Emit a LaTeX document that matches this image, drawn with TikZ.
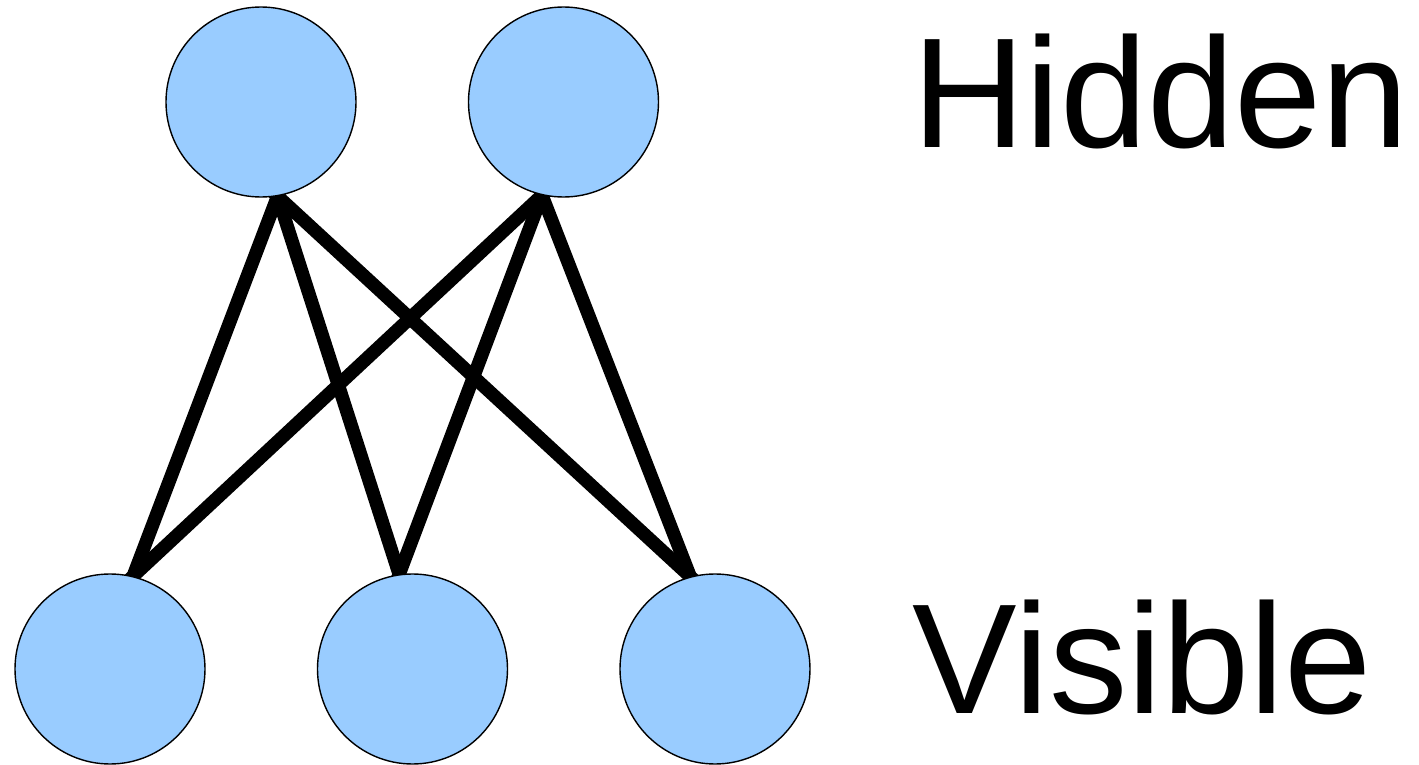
\documentclass[tikz,border=0pt]{standalone}
\usepackage{fontspec}
\setmainfont{Liberation Sans}
\usepackage{tikz}
\usetikzlibrary{positioning,backgrounds}
\definecolor{unitblue}{HTML}{99CCFF}

\begin{document}
\begin{tikzpicture}[node distance=3.025cm,on grid,
  unit node/.style={circle,draw,line width=0.4pt,fill=unitblue,minimum size=1.9cm,inner sep=0pt},
  layer label/.style={font=\fontsize{44.6}{54}\selectfont,inner sep=0pt,anchor=base west}]

  \useasboundingbox (0,0) rectangle (14.19,-7.65);

  % visible layer
  \node[unit node] (v1) at (1.10,-6.69) {};
  \node[unit node] (v2) [right=of v1] {};
  \node[unit node] (v3) [right=of v2] {};
  % hidden layer
  \node[unit node] (h1) [above right=5.67cm and 1.51cm of v1] {};
  \node[unit node] (h2) [right=of h1] {};

  \node[layer label] (hid) at (9.115,-1.47) {Hidden};
  \node[layer label] (vis) at (9.12,-7.13) {Visible};

  \begin{scope}[on background layer]
  \path[line width=3.8pt,shorten <=-3pt,shorten >=-3pt]
    (h1.-80) edge (v1.76)
    	edge (v2.98)
    	edge (v3.105)
    (h2.-103) edge (v1.76)
    	edge (v2.98)
    	edge (v3.105);
  \end{scope}
\end{tikzpicture}
\end{document}
